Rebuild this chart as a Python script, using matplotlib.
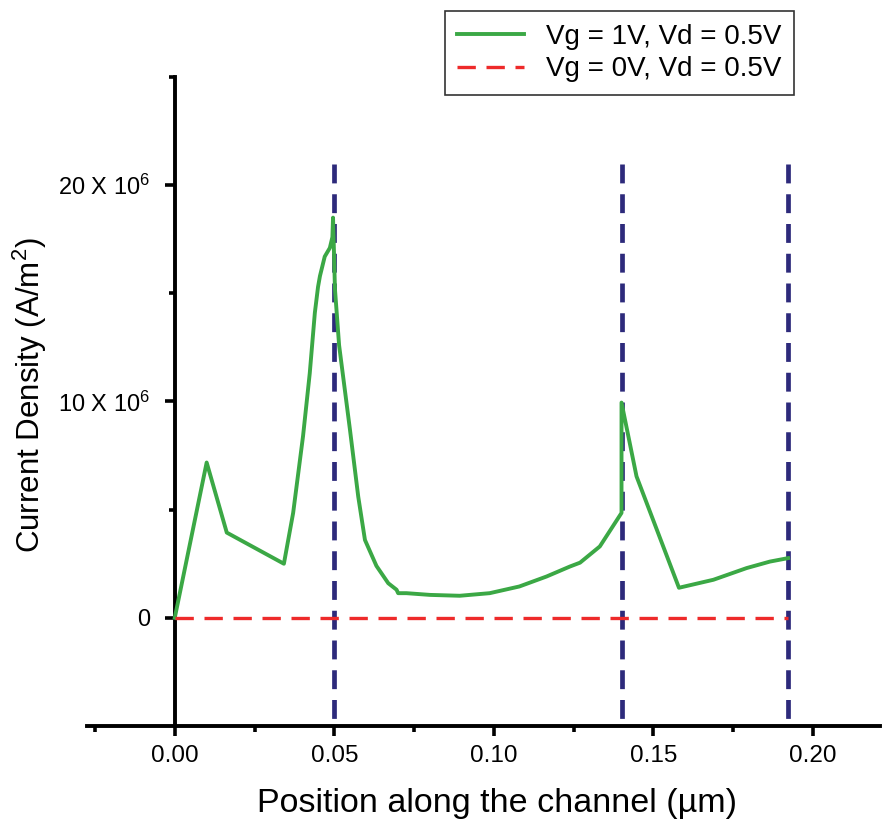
import matplotlib
matplotlib.use("Agg")
import matplotlib.pyplot as plt
from matplotlib.ticker import FixedLocator, FixedFormatter

plt.rcParams['font.family'] = ['Liberation Sans', 'DejaVu Sans']
plt.rcParams['mathtext.fontset'] = 'custom'
plt.rcParams['mathtext.rm'] = 'Liberation Sans'
plt.rcParams['mathtext.it'] = 'Liberation Sans:italic'

# current density along the channel, Vg = 1V (units of 1e6 A/m^2)
pos_on = [0.0, 0.010, 0.0163, 0.0342, 0.0371, 0.0402, 0.0423, 0.0439, 0.0449,
          0.0455, 0.0470, 0.0486, 0.0494, 0.0496, 0.0502, 0.0515, 0.0549,
          0.0575, 0.0596, 0.0632, 0.0669, 0.0695, 0.0700, 0.0726, 0.0800,
          0.0893, 0.0987, 0.1080, 0.1165, 0.1238, 0.1270, 0.1332, 0.1400,
          0.1400, 0.1447, 0.1580, 0.1688, 0.1792, 0.1865, 0.1922]
cur_on = [0.0, 7.18, 3.94, 2.50, 4.85, 8.4, 11.3, 14.1, 15.3,
          15.8, 16.7, 17.1, 17.6, 18.5, 15.2, 12.6, 8.7,
          5.6, 3.6, 2.4, 1.6, 1.3, 1.14, 1.14, 1.06,
          1.02, 1.14, 1.45, 1.91, 2.37, 2.55, 3.3, 4.85,
          9.95, 6.54, 1.39, 1.76, 2.3, 2.6, 2.76]

# Vg = 0V stays at zero
pos_off = [0.0, 0.1922]
cur_off = [0.0, 0.0]

# region boundaries
boundaries = [0.050, 0.140, 0.1922]
boundary_top = 21.0

scale = 1e6

fig = plt.figure(figsize=(8.85, 8.22), dpi=100)
ax = fig.add_axes([87 / 885, 1 - 726 / 822, (880 - 87) / 885, (726 - 77) / 822])

# drawn top-down so the dash pattern starts at the top end
for xb in boundaries:
    ax.plot([xb, xb], [boundary_top * scale, -5 * scale], color='#2d2a7b',
            lw=3.4, dashes=(4.0, 2.3), zorder=2)

ax.plot(pos_on, [c * scale for c in cur_on], color='#3ba845', lw=2.8,
        label='Vg = 1V, Vd = 0.5V', zorder=3)
ax.plot(pos_off, [c * scale for c in cur_off], color='#ee2a2a', lw=2.4,
        dashes=(5.5, 3.2), label='Vg = 0V, Vd = 0.5V', zorder=3)

ax.set_xlim(-0.0275, 0.221)
ax.set_ylim(-5 * scale, 25 * scale)

ax.spines['top'].set_visible(False)
ax.spines['right'].set_visible(False)
ax.spines['left'].set_position(('data', 0))
for s in ('left', 'bottom'):
    ax.spines[s].set_linewidth(2.8)

ax.xaxis.set_major_locator(FixedLocator([0.0, 0.05, 0.10, 0.15, 0.20]))
ax.xaxis.set_major_formatter(FixedFormatter(['0.00', '0.05', '0.10', '0.15', '0.20']))
ax.xaxis.set_minor_locator(FixedLocator([-0.025, 0.025, 0.075, 0.125, 0.175]))
ax.yaxis.set_major_locator(FixedLocator([0, 10 * scale, 20 * scale]))
ax.yaxis.set_major_formatter(FixedFormatter(['0', r'10 X 10$^{\mathregular{6}}$',
                                             r'20 X 10$^{\mathregular{6}}$']))
ax.yaxis.set_minor_locator(FixedLocator([5 * scale, 15 * scale, 25 * scale]))

ax.tick_params(which='major', direction='out', length=7, width=2.6)
ax.tick_params(which='minor', direction='out', length=4, width=2.6)
ax.tick_params(axis='x', which='major', pad=6.5, labelsize=17.5)
ax.tick_params(axis='y', which='major', pad=10.5, labelsize=17)

ax.set_xlabel('Position along the channel (µm)', fontsize=24.5)
ax.xaxis.set_label_coords((497 - 87) / 793, -0.095)
ax.set_ylabel(r'Current Density (A/m$^{\mathregular{2}}$)', fontsize=22.5)
ax.yaxis.set_label_coords(-0.048, 0.51)

leg = fig.legend(loc='upper right', bbox_to_anchor=(794 / 885, 1 - 11 / 822),
                 fontsize=20, frameon=True, fancybox=False, handlelength=2.4,
                 handletextpad=0.8, borderpad=0.45, labelspacing=0.25,
                 borderaxespad=0)
leg.get_frame().set_edgecolor('black')
leg.get_frame().set_linewidth(1.2)

fig.savefig('out.png', dpi=100)
